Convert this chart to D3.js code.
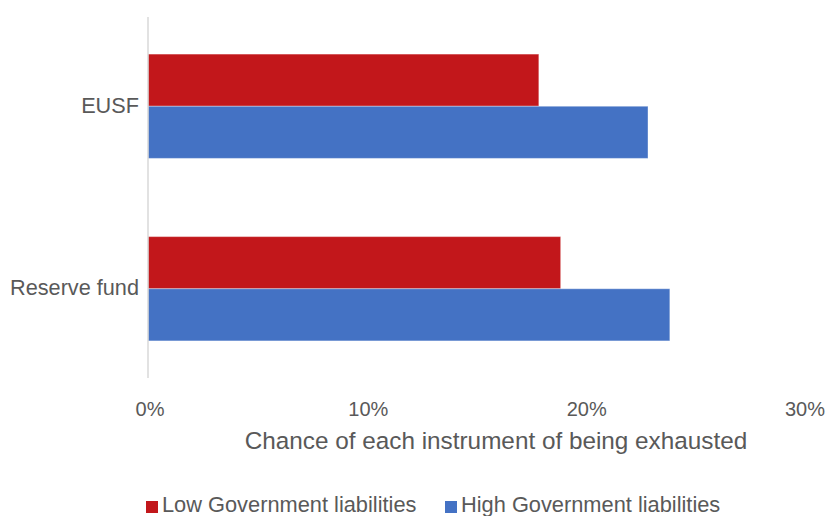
<!DOCTYPE html>
<html>
<head>
<meta charset="utf-8">
<script src="https://cdn.jsdelivr.net/npm/d3@7"></script>
<style>
  html, body { margin: 0; padding: 0; background: #fff; }
  svg { display: block; }
  text { font-family: "Liberation Sans", Arial, sans-serif; fill: #595959; }
</style>
</head>
<body>
<svg id="chart" width="826" height="516"></svg>
<script>
const categories = ["EUSF", "Reserve fund"];
const seriesNames = ["Low Government liabilities", "High Government liabilities"];
const lowValues = [0.179, 0.189];
const highValues = [0.229, 0.239];
const xTicks = [0, 0.1, 0.2, 0.3];
const colors = ["#C2171B", "#4472C4"];
const xTitle = "Chance of each instrument of being exhausted";

const svg = d3.select("#chart");
const x = d3.scaleLinear().domain([0, 0.3]).range([148, 803]);
const y = d3.scaleBand().domain(categories).range([17, 378])
  .paddingInner(0.4286).paddingOuter(0.2033);
const ySub = d3.scaleBand().domain(seriesNames).range([0, y.bandwidth()]);

const rows = categories.map((c, i) => ({cat: c, vals: [lowValues[i], highValues[i]]}));

// bars
const g = svg.append("g");
rows.forEach(r => {
  r.vals.forEach((v, j) => {
    g.append("rect")
      .attr("x", x(0))
      .attr("y", y(r.cat) + ySub(seriesNames[j]))
      .attr("width", x(v) - x(0))
      .attr("height", ySub.bandwidth())
      .attr("fill", colors[j])
      .attr("stroke", "#ffffff")
      .attr("stroke-opacity", 0.35)
      .attr("stroke-width", 1);
  });
});

// y axis line
svg.append("line")
  .attr("x1", x(0)).attr("x2", x(0))
  .attr("y1", 17).attr("y2", 378)
  .attr("stroke", "#D9D9D9").attr("stroke-width", 1.5);

// category labels
svg.append("g").selectAll("text").data(categories).join("text")
  .attr("x", 139)
  .attr("y", d => y(d) + y.bandwidth() / 2)
  .attr("dy", "0.3em")
  .attr("text-anchor", "end")
  .style("font-size", "21.7px")
  .text(d => d);

// x tick labels
svg.append("g").selectAll("text").data(xTicks).join("text")
  .attr("x", d => x(d) + 2)
  .attr("y", 416)
  .attr("text-anchor", "middle")
  .style("font-size", "20px")
  .text(d => d3.format(".0%")(d));

// axis title
svg.append("text")
  .attr("x", 496).attr("y", 449)
  .attr("text-anchor", "middle")
  .style("font-size", "24.3px")
  .text(xTitle);

// legend
const legendX = [146, 445];
seriesNames.forEach((s, j) => {
  svg.append("rect")
    .attr("x", legendX[j]).attr("y", 501)
    .attr("width", 12).attr("height", 12)
    .attr("fill", colors[j]);
  svg.append("text")
    .attr("x", legendX[j] + 16).attr("y", 511.5)
    .style("font-size", "21.8px")
    .text(s);
});
</script>
</body>
</html>
